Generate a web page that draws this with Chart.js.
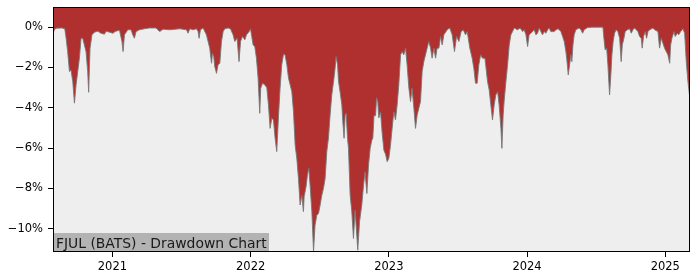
<!DOCTYPE html>
<html>
<head>
<meta charset="utf-8">
<title>FJUL (BATS) - Drawdown Chart</title>
<script src="https://cdn.jsdelivr.net/npm/chart.js@4.4.1/dist/chart.umd.min.js"></script>
<style>
  body { margin: 0; background: #fff; }
  canvas { display: block; }
</style>
</head>
<body>
<canvas id="drawdownChart" width="700" height="280"></canvas>
<script>
// Dates as decimal years, drawdown in percent
const dates = [
  2020.570, 2020.582, 2020.597, 2020.633, 2020.655, 2020.664, 2020.676, 2020.689, 2020.700, 2020.713,
  2020.725, 2020.737, 2020.749, 2020.761, 2020.773, 2020.785, 2020.797, 2020.809, 2020.821, 2020.828,
  2020.838, 2020.852, 2020.870, 2020.894, 2020.917, 2020.942, 2020.954, 2020.980, 2021.002, 2021.024,
  2021.051, 2021.069, 2021.077, 2021.087, 2021.111, 2021.135, 2021.147, 2021.159, 2021.171, 2021.195,
  2021.232, 2021.268, 2021.316, 2021.342, 2021.366, 2021.415, 2021.487, 2021.536, 2021.547, 2021.560,
  2021.583, 2021.608, 2021.620, 2021.627, 2021.637, 2021.656, 2021.680, 2021.692, 2021.704, 2021.717,
  2021.724, 2021.733, 2021.740, 2021.753, 2021.764, 2021.777, 2021.789, 2021.801, 2021.813, 2021.837,
  2021.854, 2021.873, 2021.885, 2021.902, 2021.916, 2021.927, 2021.941, 2021.958, 2021.970, 2021.989,
  2021.999, 2022.008, 2022.018, 2022.030, 2022.042, 2022.054, 2022.066, 2022.073, 2022.086, 2022.102,
  2022.117, 2022.129, 2022.141, 2022.153, 2022.165, 2022.177, 2022.189, 2022.202, 2022.213, 2022.225,
  2022.238, 2022.249, 2022.262, 2022.274, 2022.286, 2022.298, 2022.310, 2022.322, 2022.334, 2022.346,
  2022.358, 2022.370, 2022.382, 2022.387, 2022.401, 2022.411, 2022.421, 2022.430, 2022.443, 2022.455,
  2022.466, 2022.479, 2022.491, 2022.503, 2022.515, 2022.527, 2022.539, 2022.551, 2022.563, 2022.575,
  2022.587, 2022.600, 2022.611, 2022.618, 2022.629, 2022.636, 2022.647, 2022.660, 2022.667, 2022.676,
  2022.684, 2022.691, 2022.701, 2022.708, 2022.720, 2022.732, 2022.744, 2022.756, 2022.768, 2022.775,
  2022.788, 2022.804, 2022.817, 2022.828, 2022.841, 2022.853, 2022.865, 2022.877, 2022.884, 2022.893,
  2022.904, 2022.911, 2022.920, 2022.927, 2022.940, 2022.951, 2022.964, 2022.976, 2022.988, 2023.000,
  2023.012, 2023.024, 2023.036, 2023.048, 2023.060, 2023.072, 2023.085, 2023.096, 2023.108, 2023.121,
  2023.132, 2023.145, 2023.157, 2023.168, 2023.181, 2023.193, 2023.205, 2023.217, 2023.229, 2023.241,
  2023.253, 2023.277, 2023.289, 2023.302, 2023.313, 2023.326, 2023.338, 2023.349, 2023.362, 2023.374,
  2023.386, 2023.398, 2023.422, 2023.441, 2023.458, 2023.475, 2023.490, 2023.507, 2023.523, 2023.538,
  2023.555, 2023.567, 2023.586, 2023.603, 2023.615, 2023.627, 2023.639, 2023.651, 2023.664, 2023.678,
  2023.695, 2023.702, 2023.714, 2023.726, 2023.738, 2023.750, 2023.762, 2023.774, 2023.787, 2023.798,
  2023.811, 2023.818, 2023.827, 2023.834, 2023.847, 2023.859, 2023.871, 2023.883, 2023.895, 2023.907,
  2023.931, 2023.950, 2023.968, 2023.979, 2023.992, 2024.004, 2024.015, 2024.028, 2024.052, 2024.064,
  2024.076, 2024.088, 2024.100, 2024.112, 2024.124, 2024.136, 2024.149, 2024.160, 2024.172, 2024.196,
  2024.209, 2024.225, 2024.245, 2024.257, 2024.269, 2024.281, 2024.288, 2024.298, 2024.308, 2024.317,
  2024.324, 2024.332, 2024.341, 2024.353, 2024.377, 2024.390, 2024.402, 2024.413, 2024.438, 2024.469,
  2024.505, 2024.549, 2024.556, 2024.565, 2024.576, 2024.585, 2024.597, 2024.605, 2024.614, 2024.623,
  2024.633, 2024.645, 2024.657, 2024.670, 2024.681, 2024.689, 2024.701, 2024.710, 2024.725, 2024.742,
  2024.754, 2024.766, 2024.778, 2024.790, 2024.802, 2024.814, 2024.826, 2024.833, 2024.843, 2024.855,
  2024.865, 2024.875, 2024.887, 2024.911, 2024.923, 2024.947, 2024.959, 2024.971, 2024.983, 2024.995,
  2025.007, 2025.019, 2025.032, 2025.039, 2025.048, 2025.063, 2025.072, 2025.087, 2025.097, 2025.111,
  2025.128, 2025.140, 2025.152, 2025.164, 2025.175
];

const drawdown = [
  -0.30, -0.10, -0.05, -0.04, -0.08, -0.50, -1.21, -2.20, -2.12, -2.70,
  -3.77, -2.86, -2.20, -1.54, -0.55, -0.55, -0.88, -1.21, -2.20, -3.23,
  -1.04, -0.38, -0.25, -0.20, -0.30, -0.35, -0.20, -0.25, -0.30, -0.20,
  -0.15, -0.71, -1.21, -0.38, -0.13, -0.13, -0.38, -0.55, -0.22, -0.13,
  -0.08, -0.04, -0.04, -0.22, -0.10, -0.13, -0.08, -0.13, -0.30, -0.08,
  -0.13, -0.08, -0.22, -0.55, -0.13, -0.04, -0.38, -0.71, -1.04, -1.79,
  -1.29, -1.46, -1.95, -2.29, -1.87, -1.79, -0.71, -0.22, -0.08, -0.04,
  -0.08, -0.38, -0.71, -0.55, -1.71, -0.71, -0.46, -0.63, -0.38, -0.22,
  -0.08, -0.46, -0.88, -0.96, -1.54, -2.53, -4.27, -3.03, -2.78, -2.86,
  -3.00, -3.86, -5.02, -4.52, -4.60, -5.51, -6.17, -4.36, -3.03, -1.87,
  -1.33, -1.37, -1.87, -2.53, -2.86, -3.20, -4.19, -5.85, -6.51, -7.50,
  -8.82, -8.33, -9.15, -8.41, -7.91, -7.33, -7.00, -7.83, -9.15, -11.12,
  -9.82, -9.32, -9.24, -8.82, -8.33, -7.99, -7.50, -6.17, -5.51, -4.36,
  -3.36, -2.70, -2.04, -1.46, -1.87, -2.70, -3.20, -3.86, -4.69, -5.51,
  -4.36, -4.27, -5.51, -6.01, -8.33, -9.15, -10.48, -9.07, -10.31, -11.06,
  -9.65, -8.82, -7.83, -7.17, -8.25, -6.84, -6.01, -5.60, -5.51, -4.36,
  -4.40, -3.50, -3.70, -4.50, -4.20, -5.20, -6.10, -6.30, -6.67, -6.50,
  -5.85, -5.00, -4.20, -4.60, -3.86, -2.86, -1.37, -1.21, -1.37, -1.04,
  -1.87, -3.03, -3.69, -3.03, -4.02, -5.02, -4.36, -4.02, -3.69, -2.20,
  -1.71, -1.04, -0.71, -1.04, -1.54, -1.04, -1.54, -1.04, -1.04, -0.46,
  -0.88, -0.38, -0.13, -0.04, -0.38, -1.21, -0.46, -0.71, -0.22, -0.13,
  -0.38, -0.22, -1.04, -1.54, -2.04, -2.78, -2.78, -1.87, -1.37, -1.54,
  -1.54, -1.95, -2.70, -3.11, -3.86, -4.60, -3.86, -3.36, -3.20, -3.86,
  -5.02, -6.01, -4.36, -3.69, -2.70, -1.87, -0.88, -0.38, -0.22, -0.04,
  -0.13, -0.04, -0.22, -0.13, -0.38, -0.96, -0.38, -0.30, -0.13, -0.38,
  -0.30, -0.04, -0.22, -0.38, -0.22, -0.30, -0.13, -0.04, -0.22, -0.22,
  -0.13, -0.08, -0.22, -0.46, -0.71, -1.21, -1.62, -2.37, -1.87, -1.37,
  -1.71, -0.88, -0.38, -0.13, -0.04, -0.13, -0.30, -0.13, -0.02, 0.00,
  0.00, 0.00, -0.55, -1.13, -1.04, -1.87, -3.36, -2.53, -1.37, -0.71,
  -0.30, -0.13, -0.22, -0.55, -1.71, -0.88, -0.55, -0.22, -0.13, -0.08,
  -0.30, -0.13, -0.04, -0.13, -0.22, -0.46, -0.55, -1.04, -0.46, -0.22,
  -0.55, -0.22, -0.13, -0.04, -0.13, -0.22, -1.04, -0.55, -0.80, -1.04,
  -1.21, -1.37, -1.79, -0.88, -0.55, -0.22, -0.46, -0.30, -0.38, -0.22,
  -0.08, -0.30, -1.71, -2.70, -3.36
];

const xTicks = [2021, 2022, 2023, 2024, 2025];
const yTicks = [0, -2, -4, -6, -8, -10];
const chartTitle = 'FJUL (BATS) - Drawdown Chart';

const points = dates.map((d, i) => ({ x: d, y: drawdown[i] }));

// plot background + frame + title box
const plotDecor = {
  id: 'plotDecor',
  beforeDraw(chart) {
    const { ctx, chartArea: a } = chart;
    ctx.save();
    ctx.fillStyle = '#eeeeee';
    ctx.fillRect(a.left, a.top, a.right - a.left, a.bottom - a.top);
    ctx.restore();
  },
  afterDraw(chart) {
    const { ctx, chartArea: a } = chart;
    ctx.save();
    ctx.fillStyle = '#b3b3b3';
    ctx.fillRect(a.left, 233, 216, 19);
    ctx.fillStyle = '#1a1a1a';
    ctx.font = '13.9px "DejaVu Sans"';
    ctx.textBaseline = 'alphabetic';
    ctx.fillText(chartTitle, a.left + 3, 248);
    ctx.strokeStyle = '#000';
    ctx.lineWidth = 1;
    ctx.strokeRect(a.left + 0.5, a.top + 0.5, a.right - a.left - 1, a.bottom - a.top - 1);
    ctx.restore();
  }
};

const tickFont = { family: 'DejaVu Sans', size: 11.5 };

new Chart(document.getElementById('drawdownChart').getContext('2d'), {
  type: 'line',
  data: {
    datasets: [{
      data: points,
      fill: 'end',
      backgroundColor: '#b03030',
      borderColor: 'rgba(120, 120, 120, 0.9)',
      borderWidth: 1,
      pointRadius: 0,
      tension: 0
    }]
  },
  options: {
    responsive: false,
    animation: false,
    layout: { padding: { top: 7, right: 10, left: 0, bottom: 0 } },
    plugins: {
      legend: { display: false },
      tooltip: { enabled: false }
    },
    scales: {
      x: {
        type: 'linear',
        min: 2020.57,
        max: 2025.179,
        afterBuildTicks: s => { s.ticks = xTicks.map(v => ({ value: v })); },
        afterFit: s => { s.height = 28; s.paddingLeft = 0; s.paddingRight = 0; },
        ticks: {
          callback: v => String(v),
          font: tickFont,
          color: '#000',
          padding: 3,
          maxRotation: 0
        },
        grid: { drawOnChartArea: false, drawTicks: true, tickLength: 5, color: '#000' },
        border: { display: false }
      },
      y: {
        min: -11.15,
        max: 1,
        afterBuildTicks: s => { s.ticks = yTicks.map(v => ({ value: v })); },
        afterFit: s => { s.width = 53; s.paddingTop = 0; s.paddingBottom = 0; },
        ticks: {
          callback: v => (v < 0 ? '\u2212' + Math.abs(v) : v) + '%',
          font: tickFont,
          color: '#000',
          padding: 5
        },
        grid: { drawOnChartArea: false, drawTicks: true, tickLength: 5, color: '#000' },
        border: { display: false }
      }
    }
  },
  plugins: [plotDecor]
});
</script>
</body>
</html>
